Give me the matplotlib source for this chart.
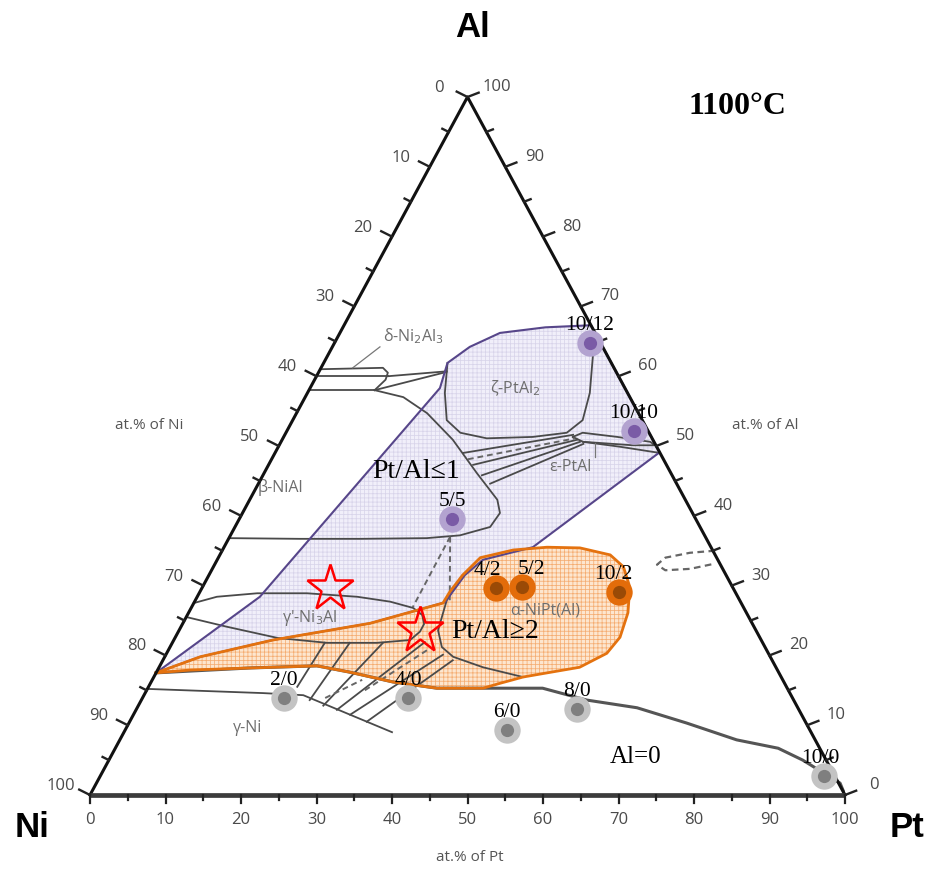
import numpy as np
import matplotlib
matplotlib.use("Agg")
import matplotlib.pyplot as plt

# ---------------- data (compositions in at.%: Pt, Al) ----------------
sample_labels = ["10/12", "10/10", "5/5", "4/2", "5/2", "10/2", "2/0", "4/0", "6/0", "8/0", "10/0"]
sample_pt = [33.8, 46.0, 28.2, 38.9, 42.3, 55.5, 18.7, 35.2, 50.6, 58.4, 95.9]
sample_al = [64.8, 52.1, 39.5, 29.7, 29.8, 29.1, 13.9, 13.9, 9.3, 12.3, 2.7]
sample_group = ["p", "p", "p", "o", "o", "o", "g", "g", "g", "g", "g"]
sample_dx = [0, 0, 0, -6, 7, -4, 0, 0, 0, 0, -3]

star_pt = [17.0, 31.9]
star_al = [29.7, 23.6]

purple_pt = [0, 8.3, 17.2, 16.4, 18.2, 21.2, 26.8, 32.7, 50.9, 40.9, 35.2, 33.9, 33.2, 24.8, 13.1, 4.7]
purple_al = [17.5, 28.4, 58.3, 61.9, 64.2, 66.2, 67.0, 67.3, 49.1, 35.5, 33.7, 31.5, 27.6, 24.6, 22.2, 19.8]

orange_pt = [0, 4.7, 13.1, 24.8, 33.0, 33.1, 33.6, 34.7, 38.5, 42.8, 47.2, 51.7, 54.3, 56.6,
             58.2, 58.9, 58.3, 55.7, 51.8, 48.9, 46.3, 44.4, 38.3, 32.0, 25.6, 20.8, 12.1, 4.3]
orange_al = [17.5, 19.8, 22.2, 24.6, 27.5, 29.1, 31.5, 34.0, 35.1, 35.5, 35.4, 34.4, 32.7, 29.8,
             26.1, 22.6, 20.3, 18.3, 17.5, 16.9, 16.0, 15.3, 15.3, 16.2, 17.6, 18.5, 18.2, 17.9]

# phase boundaries of the Ni-Pt-Al isotherm (Pt, Al)
delta_top = [(0, 61.0), (8.2, 61.2), (9.2, 60.5), (9.4, 59.5), (8.7, 58.0)]
delta_mid = [(0, 60.0), (9.5, 60.0)]
delta_low = [(0, 58.0), (8.7, 58.0)]
delta_tie1 = [(9.5, 60.0), (16.9, 60.7)]
delta_tie2 = [(8.7, 58.0), (16.9, 60.6)]
beta_bound = [(8.7, 58.0), (13.0, 57.0), (17.3, 54.7), (22.6, 50.9), (28.2, 46.1), (32.8, 42.3),
              (34.1, 40.4), (33.8, 38.4), (30.4, 37.2), (26.2, 36.8), (17.4, 36.7), (9.4, 36.7), (0, 36.8)]
zeta_bound = [(16.4, 61.9), (18.2, 57.6), (20.4, 53.7), (23.1, 51.9), (27.0, 51.1), (33.0, 51.3),
              (37.2, 51.9), (38.4, 53.7), (37.4, 57.6), (35.2, 62.8), (34.2, 64.8)]
eps_lens = [(38.3, 51.3), (39.3, 51.9), (44.2, 51.3), (48.9, 50.6), (49.8, 50.1), (46.9, 50.1),
            (40.0, 50.6), (38.3, 51.3)]
eps_low = [(40.0, 50.6), (45.2, 49.9), (51.0, 49.0)]
be_ties = [[(24.9, 49.0), (38.2, 51.6)], [(27.1, 47.3), (39.1, 50.9)],
           [(29.0, 45.8), (39.6, 50.6)], [(30.7, 44.6), (40.2, 50.3)]]
be_dash = [[(26.0, 48.1), (38.7, 51.1)]]
beta_gp_dash = [[(29.2, 37.0), (29.3, 26.9)], [(29.2, 37.0), (33.7, 27.9)]]
gp_upper = [(0, 27.5), (2.6, 28.4), (7.7, 28.9), (14.3, 28.9), (21.2, 28.4), (25.9, 27.7), (29.4, 26.8),
            (31.1, 25.8), (32.0, 24.5), (32.0, 23.4), (31.3, 22.2)]
gp_lower = [(31.3, 22.2), (27.1, 21.8), (20.5, 21.8), (13.6, 22.5), (6.1, 24.1), (0, 25.5)]
alpha_left = [(33.6, 31.5), (33.3, 27.9), (34.3, 23.6), (36.0, 21.2), (38.2, 19.8), (42.9, 18.3), (48.9, 16.9)]
gamma_bound = [(0, 15.2), (15.6, 14.6), (21.1, 14.3), (35.5, 9.0)]
solvus = [(0, 17.5), (12.1, 18.2), (20.8, 18.5), (25.6, 17.6), (32.0, 16.2), (38.3, 15.3), (52.3, 15.3),
          (59.0, 13.6), (66.2, 12.5), (73.9, 10.3), (81.7, 7.9), (87.8, 6.7), (91.9, 5.0), (98.5, 1.7), (100, 0)]
gg_ties = [[(19.7, 15.5), (20.2, 21.8)], [(22.3, 13.6), (23.5, 21.8)], [(24.5, 12.8), (27.9, 21.8)],
           [(26.6, 12.2), (33.4, 21.9)], [(28.7, 11.5), (36.7, 20.1)], [(31.4, 10.5), (38.4, 19.3)]]
gg_dash = [[(28.9, 15.0), (34.5, 21.0)], [(24.2, 13.9), (27.8, 16.5)]]
ellipse_dash = [(65.3, 35.0), (62.1, 34.7), (59.2, 34.0), (58.6, 33.0), (60.1, 32.2), (63.3, 32.4), (66.0, 33.1)]
delta_leader = [(4.2, 61.2), (6.3, 64.2)]
eps_leader = [(41.7, 50.4), (42.7, 48.4)]

phase_names = ["δ-Ni$_2$Al$_3$", "ζ-PtAl$_2$", "β-NiAl", "ε-PtAl", "γ'-Ni$_3$Al", "α-NiPt(Al)", "γ-Ni"]
phase_pt = [9.9, 27.2, 3.2, 40.1, 16.4, 47.0, 16.1]
phase_al = [65.8, 58.3, 44.0, 47.0, 25.4, 26.5, 9.6]

region_text = ["Pt/Al≤1", "Pt/Al≥2", "Al=0"]
region_pt = [20.0, 41.9, 69.6]
region_al = [46.3, 23.4, 5.4]
region_size = [20, 20, 18]

tick_values = list(range(0, 101, 10))

# ---------------- figure ----------------
W, H = 926, 869
fig = plt.figure(figsize=(W / 100, H / 100), dpi=100)
ax = fig.add_axes([90 / W, 74 / H, 755 / W, 698 / H])
ax.set_xlim(0, 100)
ax.set_ylim(0, 100)
ax.axis("off")
plt.rcParams["hatch.linewidth"] = 0.55

PX = 100 / 755.0   # data units per pixel, horizontal
PY = 100 / 698.0   # data units per pixel, vertical


def xy(pt, al):
    pt = np.asarray(pt, float)
    al = np.asarray(al, float)
    return pt + al / 2.0, al


def line(pts, **kw):
    p = np.array(pts, float)
    x, y = xy(p[:, 0], p[:, 1])
    ax.plot(x, y, **kw)


serif = ["Liberation Serif", "DejaVu Serif"]
sans = ["Open Sans", "DejaVu Sans"]
gray = "#4a4a4a"


def region(pt, al, fc, hc, ec, lw):
    x, y = xy(pt, al)
    ax.fill(x, y, facecolor=fc, edgecolor="none", zorder=1)
    ax.fill(x, y, facecolor="none", edgecolor=hc, hatch="++++", linewidth=0, zorder=1.1)
    ax.plot(np.r_[x, x[0]], np.r_[y, y[0]], color=ec, lw=lw, zorder=3, solid_joinstyle="round")


region(purple_pt, purple_al, "#f1effa", "#d8d4ea", "#57468a", 1.5)
region(orange_pt, orange_al, "#fde6cf", "#f5ad72", "#e4720f", 2.0)

# phase diagram lines
glw = 1.3
for seg in [delta_top, delta_mid, delta_low, delta_tie1, delta_tie2, beta_bound, zeta_bound, eps_lens,
            eps_low, gp_upper, gp_lower, alpha_left, gamma_bound] + be_ties + gg_ties:
    line(seg, color=gray, lw=glw, zorder=2)
line(solvus, color="#555555", lw=2.2, zorder=2.5)
for seg in be_dash + beta_gp_dash + gg_dash:
    line(seg, color="#666666", lw=1.4, ls=(0, (3, 2)), zorder=2)
line(ellipse_dash, color="#666666", lw=1.6, ls=(0, (3, 2)), zorder=2)
line(delta_leader, color="#777777", lw=0.9, zorder=2)
line(eps_leader, color="#777777", lw=0.9, zorder=2)

# triangle
ax.plot([0, 50, 100], [0, 100, 0], color="#111111", lw=2.2, zorder=4, clip_on=False)
ax.plot([0, 100], [0, 0], color="#3c3c3c", lw=3.4, zorder=4, clip_on=False, solid_capstyle="butt")

tick_col = "#222222"
for v in range(0, 101, 5):
    major = v % 10 == 0
    L = 8 if major else 5
    ax.plot([v, v], [0, -L * PY], color=tick_col, lw=1.6, clip_on=False, zorder=4)
    x0, y0 = xy(0, 100 - v)
    L = 12 if major else 7
    ax.plot([x0, x0 - L * 0.9 * PX], [y0, y0 + L * 0.45 * PY], color=tick_col, lw=1.7, clip_on=False, zorder=4)
    x1, y1 = xy(100 - v, v)
    ax.plot([x1, x1 + L * 0.93 * PX], [y1, y1 + L * 0.36 * PY], color=tick_col, lw=1.7, clip_on=False, zorder=4)

lab_kw = dict(fontsize=12, color="#4a4a4a", family=sans, ha="center", va="center", clip_on=False)
for v in tick_values:
    ax.text(v, -25 * PY, str(v), **lab_kw)
    x0, y0 = xy(0, 100 - v)
    ax.text(x0 - 29 * PX, y0 + 9 * PY, str(v), **lab_kw)
    x1, y1 = xy(100 - v, v)
    ax.text(x1 + 29 * PX, y1 + 10 * PY, str(v), **lab_kw)

corner_kw = dict(fontsize=25, fontweight="bold", family=["Liberation Sans"], ha="center", va="center", clip_on=False)
ax.text(-7.7, -4.7, "Ni", **corner_kw)
ax.text(108.2, -4.7, "Pt", **corner_kw)
ax.text(50.7, 110.0, "Al", **corner_kw)
ax.text(85.8, 98.6, "1100°C", fontsize=23, fontweight="bold", family=serif, ha="center", va="center", clip_on=False)
ax.text(7.9, 53.0, "at.% of Ni", fontsize=11, color="#555555", family=sans, ha="center", va="center")
ax.text(89.4, 53.0, "at.% of Al", fontsize=11, color="#555555", family=sans, ha="center", va="center")
ax.text(50.3, -9.0, "at.% of Pt", fontsize=11, color="#555555", family=sans, ha="center", va="center", clip_on=False)

for name, p, a in zip(phase_names, phase_pt, phase_al):
    x, y = xy(p, a)
    ax.text(x, y, name, fontsize=11.5, color="#6e6e6e", family=sans, ha="center", va="center", zorder=2.6)

# stars
sx, sy = xy(star_pt, star_al)
ax.plot(sx, sy, "*", ms=35, mfc="none", mec="#ff0000", mew=1.8, ls="none", zorder=6)

# samples
colors = {"p": ("#b3a3d0", "#7a5ba6"), "o": ("#e36c0a", "#9a4a06"), "g": ("#c3c3c3", "#7f7f7f")}
for lbl, p, a, g, dx in zip(sample_labels, sample_pt, sample_al, sample_group, sample_dx):
    x, y = xy(p, a)
    outer, inner = colors[g]
    ax.plot(x, y, "o", ms=19, mfc=outer, mec="none", zorder=5)
    ax.plot(x, y, "o", ms=9.5, mfc=inner, mec="none", zorder=5.1)
    ax.annotate(lbl, (x, y), xytext=(dx, 12.5), textcoords="offset points", ha="center", va="center",
                fontsize=15.5, family=serif, zorder=7)

for t, p, a, s in zip(region_text, region_pt, region_al, region_size):
    x, y = xy(p, a)
    ax.text(x, y, t, fontsize=s, family=serif, ha="center", va="center", zorder=7)

fig.savefig("out.png", dpi=100, facecolor="white")
